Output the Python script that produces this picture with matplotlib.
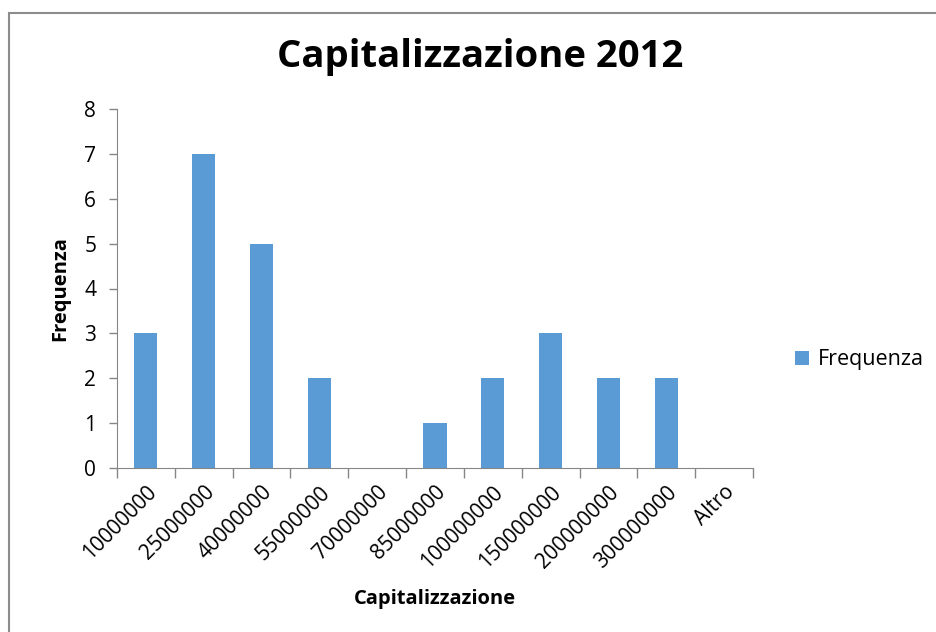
import matplotlib
matplotlib.use('Agg')
import matplotlib.pyplot as plt
from matplotlib.patches import Rectangle

# histogram classes (upper bounds) and their counts
classi = ['10000000', '25000000', '40000000', '55000000', '70000000',
          '85000000', '100000000', '150000000', '200000000', '300000000', 'Altro']
frequenza = [3, 7, 5, 2, 0, 1, 2, 3, 2, 2, 0]
yticks = [0, 1, 2, 3, 4, 5, 6, 7, 8]

plt.rcParams['font.family'] = ['Open Sans', 'DejaVu Sans']

fig = plt.figure(figsize=(9.37, 6.32), dpi=100)
# chart frame, open on the right and bottom
fig.patches.append(Rectangle((9/937, -0.1), 1.2, 1 - 13/632 + 0.1,
                             transform=fig.transFigure, fill=False,
                             edgecolor='#8c8c8c', linewidth=1.5))

ax = fig.add_axes([117/937, 1 - 468/632, 636/937, 359/632])
x = list(range(len(classi)))
ax.bar(x, frequenza, width=0.4, color='#5B9BD5', label='Frequenza')

ax.set_xlim(-0.5, len(classi) - 0.5)
ax.set_ylim(0, 8)
ax.set_yticks(yticks)
# tick marks sit between the classes, labels under the bars
ax.set_xticks([i - 0.5 for i in range(len(classi) + 1)], minor=False)
ax.set_xticklabels([])
ax.set_xticks(x, minor=True)
ax.set_xticklabels(classi, minor=True, rotation=45, ha='right',
                   rotation_mode='anchor', fontsize=15)
ax.tick_params(axis='x', which='minor', length=0, pad=10)
ax.tick_params(axis='x', which='major', length=7, color='#868686', width=1)
ax.tick_params(axis='y', length=6, color='#868686', width=1, labelsize=15, pad=9)

for s in ['top', 'right']:
    ax.spines[s].set_visible(False)
for s in ['left', 'bottom']:
    ax.spines[s].set_color('#868686')

fig.text(0.512, 0.91, 'Capitalizzazione 2012', ha='center', va='center',
         fontsize=27.5, fontweight='bold')
fig.text(60/937, 1 - 289/632, 'Frequenza', rotation=90, ha='center',
         va='center', fontsize=14.5, fontweight='bold')
fig.text(435/937, 1 - 599/632, 'Capitalizzazione', ha='center',
         va='center', fontsize=14.5, fontweight='bold')

fig.legend(loc='center left', bbox_to_anchor=(795/937, 1 - 360/632),
           frameon=False, fontsize=15.5, handlelength=0.65, handleheight=0.65,
           handletextpad=0.4, borderpad=0, borderaxespad=0)

fig.savefig('out.png', dpi=100)
